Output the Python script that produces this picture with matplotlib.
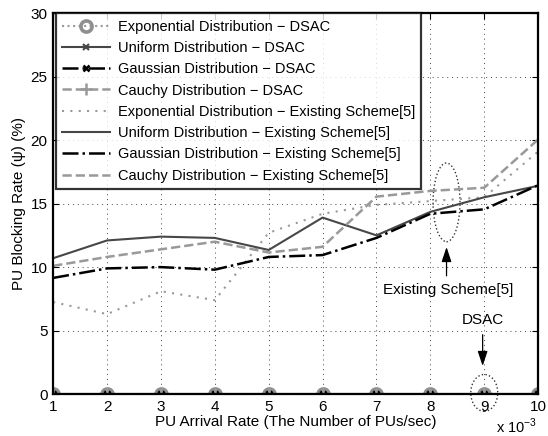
import numpy as np
import matplotlib
matplotlib.use("Agg")
import matplotlib.pyplot as plt
from matplotlib.patches import Ellipse

plt.rcParams['font.family'] = ['Liberation Sans', 'DejaVu Sans']
plt.rcParams['mathtext.fontset'] = 'custom'
plt.rcParams['mathtext.rm'] = 'Liberation Sans'

# PU arrival rate (x 10^-3 PUs/sec)
arrival_rate = [1, 2, 3, 4, 5, 6, 7, 8, 9, 10]
x_tick_labels = ['1', '2', '3', '4', '5', '6', '7', '8', '9', '10']
y_ticks = [0, 5, 10, 15, 20, 25, 30]

# PU blocking rate (%) with DSAC
exp_dsac = [0, 0, 0, 0, 0, 0, 0, 0, 0, 0]
uni_dsac = [0, 0, 0, 0, 0, 0, 0, 0, 0, 0]
gau_dsac = [0, 0, 0, 0, 0, 0, 0, 0, 0, 0]
cau_dsac = [0, 0, 0, 0, 0, 0, 0, 0, 0, 0]

# PU blocking rate (%) with the existing scheme [5]
exp_exist = [7.25, 6.3, 8.1, 7.4, 12.7, 14.2, 14.9, 15.2, 15.5, 19.1]
uni_exist = [10.7, 12.1, 12.4, 12.3, 11.35, 13.9, 12.5, 14.35, 15.5, 16.4]
gau_exist = [9.15, 9.9, 10.0, 9.8, 10.8, 10.95, 12.3, 14.2, 14.55, 16.45]
cau_exist = [10.1, 10.8, 11.4, 12.0, 11.15, 11.6, 15.55, 16.0, 16.25, 20.05]

DARK = '#474747'
LIGHT = '#999999'

fig = plt.figure(figsize=(5.48, 4.36), dpi=100)
ax = fig.add_axes([0.097, 0.096, 0.885, 0.874])

ax.plot(arrival_rate, exp_dsac, linestyle=':', color=LIGHT, lw=1.5, marker='o',
        ms=8, mfc='none', mec='#8f8f8f', mew=2.6, label='Exponential Distribution − DSAC')
ax.plot(arrival_rate, uni_dsac, linestyle='-', color=DARK, lw=1.5, marker='x',
        ms=5, mew=1.5, label='Uniform Distribution − DSAC')
ax.plot(arrival_rate, gau_dsac, linestyle='-.', color='black', lw=1.8, marker='x',
        ms=5, mew=1.8, label='Gaussian Distribution − DSAC')
ax.plot(arrival_rate, cau_dsac, linestyle='--', color=LIGHT, lw=1.8, marker='+',
        ms=8, mew=1.8, label='Cauchy Distribution − DSAC')
ax.plot(arrival_rate, exp_exist, linestyle=(0, (1, 3)), color=LIGHT, lw=1.5,
        label='Exponential Distribution − Existing Scheme[5]')
ax.plot(arrival_rate, uni_exist, linestyle='-', color=DARK, lw=1.5,
        label='Uniform Distribution − Existing Scheme[5]')
ax.plot(arrival_rate, gau_exist, linestyle='-.', color='black', lw=1.8,
        label='Gaussian Distribution − Existing Scheme[5]')
ax.plot(arrival_rate, cau_exist, linestyle='--', color=LIGHT, lw=1.8,
        label='Cauchy Distribution − Existing Scheme[5]')

ax.set_xlim(1, 10)
ax.set_ylim(0, 30)
ax.set_xticks(arrival_rate)
ax.set_xticklabels(x_tick_labels)
ax.set_yticks(y_ticks)
ax.tick_params(direction='in', top=True, right=True, labelsize=11, length=4,
               width=0.8, pad=4)
ax.grid(True, linestyle=(0, (1, 4)), color='#444444', lw=0.7)
for sp in ax.spines.values():
    sp.set_linewidth(1.6)

ax.set_xlabel('PU Arrival Rate (The Number of PUs/sec)', fontsize=11, labelpad=1)
ax.set_ylabel('PU Blocking Rate (ψ) (%)', fontsize=11, labelpad=3)
fig.text(537 / 548, 1 - 433 / 436, r'x 10$^{-3}$', ha='right', va='baseline',
         fontsize=10.5)

leg = ax.legend(loc='upper left', bbox_to_anchor=(0.005, 1.0), fontsize=10.5,
                handlelength=3.3, frameon=True, fancybox=False, borderaxespad=0,
                labelspacing=0.5, borderpad=0.45, handletextpad=0.5)
leg.get_frame().set_edgecolor('black')
leg.get_frame().set_linewidth(1.6)

# callout for the existing scheme curves
ax.add_patch(Ellipse((8.3, 15.1), 0.5, 6.2, fill=False, ls=':', ec='#333333', lw=1))
ax.annotate('', xy=(8.3, 11.8), xytext=(8.3, 9.1),
            arrowprops=dict(arrowstyle='-|>,head_length=0.9,head_width=0.3',
                            color='black', lw=0.9))
ax.text(8.33, 8.2, 'Existing Scheme[5]', ha='center', va='center', fontsize=11)

# callout for the DSAC curves
ax.add_patch(Ellipse((9.0, 0.1), 0.5, 2.9, fill=False, ls=':', ec='#333333', lw=1,
                     clip_on=False))
ax.annotate('', xy=(8.97, 2.0), xytext=(8.97, 4.9),
            arrowprops=dict(arrowstyle='-|>,head_length=0.9,head_width=0.3',
                            color='black', lw=0.9))
ax.text(8.97, 5.8, 'DSAC', ha='center', va='center', fontsize=11)

fig.savefig('out.png', dpi=100)
